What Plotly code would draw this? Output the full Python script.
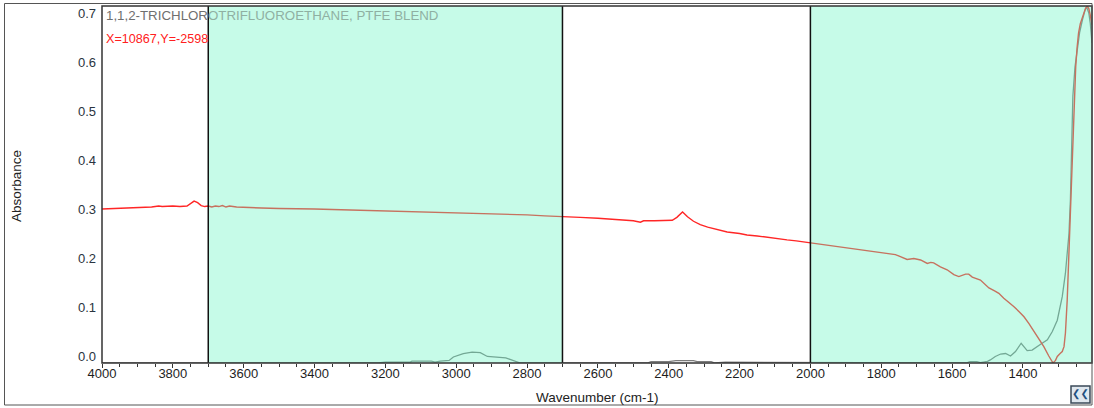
import plotly.graph_objects as go

# Sample spectrum (absorbance vs wavenumber, cm-1)
sample_wn = [
    4000, 3960, 3920, 3900, 3860, 3840, 3830, 3800, 3780, 3760, 3750, 3740, 3730,
    3720, 3710, 3700, 3690, 3680, 3670, 3660, 3650, 3640, 3620, 3600, 3550,
    3500, 3450, 3400, 3350, 3300, 3250, 3200, 3150, 3100, 3050, 3000, 2950,
    2900, 2850, 2800, 2750, 2700, 2650, 2600, 2550, 2527, 2500, 2480, 2471,
    2440, 2400, 2390, 2377, 2368, 2361, 2355, 2347, 2330, 2311, 2290, 2273,
    2250, 2235, 2200, 2179, 2150, 2122, 2100, 2066, 2040, 2000, 1960, 1930,
    1900, 1860, 1830, 1800, 1780, 1760, 1746, 1727, 1708, 1689, 1670, 1660,
    1652, 1633, 1614, 1595, 1581, 1570, 1562, 1553, 1543, 1520, 1496, 1480,
    1468, 1454, 1440, 1426, 1410, 1397, 1383, 1369, 1355, 1341, 1327, 1320,
    1315, 1308, 1303, 1295, 1289, 1284, 1280, 1275, 1270, 1266, 1261, 1259,
    1257, 1254, 1251, 1247, 1243, 1238, 1232, 1228, 1223, 1218, 1214, 1210,
    1205,
]
sample_abs = [
    0.300, 0.301, 0.302, 0.303, 0.304, 0.306, 0.305, 0.306, 0.305, 0.306, 0.311, 0.316, 0.313,
    0.307, 0.305, 0.306, 0.304, 0.306, 0.305, 0.307, 0.304, 0.306, 0.304, 0.303, 0.302,
    0.301, 0.301, 0.300, 0.299, 0.298, 0.298, 0.297, 0.296, 0.295, 0.294, 0.293, 0.292,
    0.290, 0.289, 0.288, 0.286, 0.285, 0.283, 0.281, 0.279, 0.277, 0.276, 0.273, 0.276,
    0.276, 0.276, 0.277, 0.283, 0.289, 0.294, 0.290, 0.284, 0.275, 0.268, 0.263, 0.260,
    0.256, 0.253, 0.250, 0.247, 0.245, 0.242, 0.240, 0.237, 0.235, 0.231, 0.228, 0.225,
    0.222, 0.218, 0.215, 0.212, 0.209, 0.207, 0.203, 0.197, 0.199, 0.196, 0.189, 0.191,
    0.190, 0.182, 0.176, 0.166, 0.162, 0.165, 0.167, 0.167, 0.161, 0.155, 0.139, 0.133,
    0.128, 0.118, 0.110, 0.101, 0.090, 0.080, 0.066, 0.050, 0.035, 0.019, 0.000, -0.008,
    -0.0143, -0.009, -0.001, 0.005, 0.009, 0.019, 0.047, 0.114, 0.216, 0.318, 0.400, 0.461,
    0.510, 0.549, 0.590, 0.630, 0.659, 0.678, 0.692, 0.702, 0.710, 0.714, 0.709, 0.696,
    0.676,
]

# Library reference spectrum
ref_wn = [
    4000, 3220, 3200, 3130, 3125, 3070, 3060, 3045, 3020, 3008, 2980, 2955,
    2932, 2912, 2895, 2876, 2860, 2848, 2830, 2819, 2460, 2450, 2400, 2380,
    2330, 2320, 2280, 2270, 2240, 2030, 2020, 1880, 1870, 1840, 1830, 1780,
    1770, 1720, 1710, 1680, 1670, 1600, 1590, 1560, 1550, 1530, 1520, 1500,
    1492, 1478, 1463, 1449, 1435, 1421, 1405, 1395, 1388, 1374, 1360, 1350,
    1331, 1317, 1303, 1289, 1280, 1270, 1266, 1261, 1259, 1253, 1247, 1240,
    1232, 1225, 1220, 1214, 1210, 1207, 1205,
]
ref_abs = [
    -0.0143, -0.0143, -0.0125, -0.0125, -0.0105, -0.0105, -0.0125, -0.0105, -0.009, -0.002, 0.005, 0.008,
    0.007, -0.001, -0.002, -0.003, -0.004, -0.007, -0.011, -0.0143, -0.0143, -0.0115, -0.0115, -0.0095,
    -0.0095, -0.0115, -0.0115, -0.0143, -0.0128, -0.0128, -0.0143, -0.0143, -0.0128, -0.0128, -0.0143, -0.0143,
    -0.0128, -0.0128, -0.0143, -0.0143, -0.0128, -0.0128, -0.0143, -0.0143, -0.0115, -0.0115, -0.0135, -0.011,
    -0.008, -0.001, 0.004, 0.005, 0.000, 0.009, 0.026, 0.016, 0.011, 0.012, 0.018, 0.024,
    0.033, 0.050, 0.073, 0.121, 0.169, 0.250, 0.318, 0.461, 0.530, 0.590, 0.624, 0.660,
    0.686, 0.705, 0.712, 0.700, 0.680, 0.655, 0.639,
]

# Highlighted wavenumber regions
regions = [(3700, 2700), (2000, 1205)]
region_edges = [3700, 2700, 2000]

x_ticks = list(range(4000, 1399, -200))
y_ticks = [0.0, 0.1, 0.2, 0.3, 0.4, 0.5, 0.6, 0.7]

W, H = 1094, 408
L, R, T, B = 102, 2, 6, 45
pw, ph = W - L - R, H - T - B


def px_x(p):
    return (p - L) / pw


def px_y(p):
    return (H - B - p) / ph


FONT = "Liberation Sans, Arial, sans-serif"

fig = go.Figure()
fig.add_trace(go.Scatter(x=ref_wn, y=ref_abs, mode="lines",
                         line=dict(color="#7c7c7c", width=1.3), hoverinfo="skip"))
fig.add_trace(go.Scatter(x=sample_wn, y=sample_abs, mode="lines",
                         line=dict(color="#ff2626", width=1.4), hoverinfo="skip"))

shapes = []
for a, b in regions:
    shapes.append(dict(type="rect", xref="x", yref="paper", x0=a, x1=b, y0=0, y1=1,
                       fillcolor="rgb(101,243,192)", opacity=0.37, line=dict(width=0),
                       layer="above"))
for e in region_edges:
    shapes.append(dict(type="line", xref="x", yref="paper", x0=e, x1=e, y0=0, y1=1,
                       line=dict(color="#111111", width=1.5), layer="above"))
# plot frame
shapes.append(dict(type="rect", xref="paper", yref="paper", x0=0, x1=1, y0=0, y1=1,
                   line=dict(color="#333333", width=1.5), layer="above"))
# outer frame
shapes.append(dict(type="rect", xref="paper", yref="paper",
                   x0=px_x(4.5), x1=px_x(1092), y0=px_y(405), y1=px_y(3.5),
                   line=dict(color="#555555", width=1), layer="above"))
# zoom-out button
shapes.append(dict(type="rect", xref="paper", yref="paper",
                   x0=px_x(1071), x1=px_x(1090), y0=px_y(403), y1=px_y(386),
                   fillcolor="#dfe7ee", line=dict(color="#3b4a58", width=1.5),
                   layer="above"))

annotations = [
    dict(xref="paper", yref="paper", x=px_x(105), y=px_y(15), xanchor="left",
         yanchor="middle", showarrow=False, borderpad=0,
         text="<span style='color:#6f6f6f'>1,1,2-TRICHLOR</span>"
              "<span style='color:#8fb0a2'>OTRIFLUOROETHANE, PTFE BLEND</span>",
         font=dict(family=FONT, size=13.3)),
    dict(xref="paper", yref="paper", x=px_x(105), y=px_y(39), xanchor="left",
         yanchor="middle", showarrow=False, borderpad=0, text="X=10867,Y=-2598",
         font=dict(family=FONT, size=12.6, color="#ff2020")),
    dict(xref="paper", yref="paper", x=px_x(597), y=px_y(397), xanchor="center",
         yanchor="middle", showarrow=False, text="Wavenumber (cm-1)",
         font=dict(family=FONT, size=13.5, color="#222222")),
    dict(xref="paper", yref="paper", x=px_x(16), y=px_y(186), xanchor="center",
         yanchor="middle", showarrow=False, text="Absorbance", textangle=-90,
         font=dict(family=FONT, size=13.5, color="#222222")),
    dict(xref="paper", yref="paper", x=px_x(1080.5), y=px_y(394.5), xanchor="center",
         yanchor="middle", showarrow=False, text="<b>❮❮</b>",
         font=dict(family="DejaVu Sans, sans-serif", size=10, color="#1f4f80")),
]

fig.update_layout(
    width=W, height=H,
    margin=dict(l=L, r=R, t=T, b=B),
    paper_bgcolor="white", plot_bgcolor="white",
    showlegend=False,
    shapes=shapes, annotations=annotations,
    font=dict(family=FONT, size=13, color="#222222"),
    xaxis=dict(range=[4000, 1205], tickvals=x_ticks, ticktext=[str(v) for v in x_ticks],
               ticks="outside", ticklen=4, tickcolor="#333333", tickwidth=1,
               minor=dict(dtick=50, ticks="outside", ticklen=3, tickcolor="#333333"),
               showgrid=False, zeroline=False, showline=False,
               ticklabelstandoff=-6,
               tickfont=dict(family=FONT, size=13, color="#1e1e1e")),
    yaxis=dict(range=[-0.0143, 0.7143], tickvals=y_ticks, tickformat=".1f",
               ticks="", showgrid=False, zeroline=False, showline=False,
               ticklabelstandoff=5,
               tickfont=dict(family=FONT, size=13, color="#2a3440")),
)

fig.write_html("out.html")
